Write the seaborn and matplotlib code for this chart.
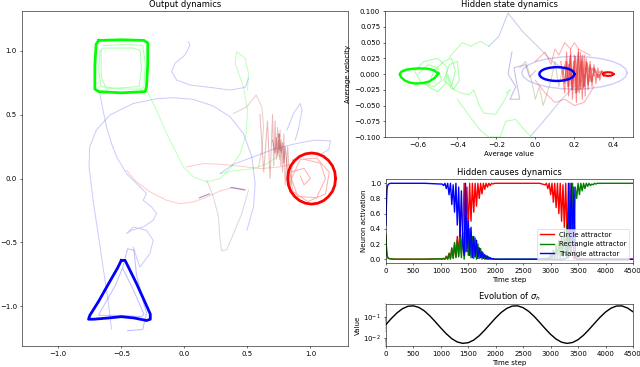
import numpy as np
import matplotlib
matplotlib.use("Agg")
import matplotlib.pyplot as plt
import seaborn as sns

# ---------------- Output dynamics: attractor loops ----------------
circle_x = [1.20, 1.194, 1.175, 1.144, 1.105, 1.059, 1.01, 0.961, 0.915, 0.876, 0.845, 0.826, 0.82,
            0.826, 0.845, 0.876, 0.915, 0.961, 1.01, 1.059, 1.105, 1.144, 1.175, 1.194, 1.20]
circle_y = [0.0, 0.052, 0.10, 0.141, 0.173, 0.193, 0.20, 0.193, 0.173, 0.141, 0.10, 0.052, 0.0,
            -0.052, -0.10, -0.141, -0.173, -0.193, -0.20, -0.193, -0.173, -0.141, -0.10, -0.052, 0.0]
circle_inner_x = [0.95, 1.08, 1.12, 1.05, 0.90, 0.85, 0.92, 1.05, 1.15, 1.12, 0.98, 0.86, 0.84, 0.95, 1.0, 0.95, 0.92]
circle_inner_y = [0.15, 0.12, 0.0, -0.15, -0.14, 0.0, 0.15, 0.16, 0.05, -0.12, -0.18, -0.1, 0.05, 0.08, 0.0, -0.05, 0.02]

square_x = [-0.68, -0.50, -0.32, -0.29, -0.29, -0.30, -0.31, -0.50, -0.68, -0.71, -0.71, -0.70, -0.68]
square_y = [1.08, 1.085, 1.08, 1.06, 0.90, 0.72, 0.68, 0.67, 0.68, 0.70, 0.88, 1.05, 1.08]
square_inner_x = [-0.64, -0.45, -0.33, -0.31, -0.32, -0.34, -0.50, -0.66, -0.68, -0.67, -0.64, -0.40, -0.35, -0.34, -0.36, -0.62, -0.66, -0.66]
square_inner_y = [1.04, 1.05, 1.04, 0.90, 0.72, 0.70, 0.70, 0.72, 0.85, 1.00, 1.02, 1.02, 1.0, 0.85, 0.72, 0.70, 0.80, 1.0]

triangle_x = [-0.50, -0.47, -0.44, -0.38, -0.32, -0.27, -0.27, -0.30, -0.40, -0.50, -0.60, -0.72, -0.76, -0.75, -0.68, -0.60, -0.53, -0.50]
triangle_y = [-0.64, -0.64, -0.70, -0.82, -0.95, -1.06, -1.10, -1.11, -1.09, -1.08, -1.09, -1.10, -1.10, -1.07, -0.96, -0.82, -0.70, -0.64]
triangle_inner_x = [-0.49, -0.40, -0.32, -0.34, -0.50, -0.68, -0.66, -0.55, -0.49, -0.45, -0.40, -0.38, -0.33, -0.30, -0.33, -0.45]
triangle_inner_y = [-0.70, -0.88, -1.06, -1.08, -1.07, -1.07, -1.03, -0.84, -0.70, -0.55, -0.56, -0.75, -0.95, -1.05, -1.18, -1.19]

# faint transient trajectories
out_p1_x = [-0.578, -0.605, -0.645, -0.684, -0.724, -0.756, -0.751, -0.698, -0.592, -0.406, -0.220, -0.088, 0.072, 0.231, 0.363, 0.469, 0.536, 0.562, 0.549, 0.496]
out_p1_y = [-1.175, -0.953, -0.692, -0.431, -0.170, 0.091, 0.248, 0.379, 0.496, 0.587, 0.624, 0.632, 0.619, 0.567, 0.483, 0.352, 0.170, -0.039, -0.222, -0.405]
out_p2_x = [-0.671, -0.645, -0.618, -0.578, -0.538, -0.459, -0.353, -0.300, -0.326, -0.260, -0.220, -0.247, -0.326, -0.419, -0.459, -0.406, -0.300, -0.247, -0.273, -0.353, -0.406]
out_p2_y = [0.666, 0.535, 0.405, 0.274, 0.170, 0.039, -0.065, -0.117, -0.170, -0.222, -0.274, -0.326, -0.379, -0.405, -0.431, -0.379, -0.405, -0.483, -0.587, -0.692, -0.535]
out_p3_x = [0.032, 0.045, 0.005, -0.074, -0.101, -0.061, 0.045, 0.204, 0.363, 0.483, 0.509]
out_p3_y = [1.070, 1.044, 0.966, 0.901, 0.836, 0.770, 0.731, 0.713, 0.692, 0.713, 0.783]
out_p4_x = [-0.300, -0.220, -0.141, -0.074, -0.008, 0.072, 0.178, 0.284, 0.363, 0.443, 0.491, 0.501, 0.469, 0.403, 0.416, 0.483, 0.509, 0.501]
out_p4_y = [0.692, 0.535, 0.352, 0.222, 0.091, 0.013, -0.026, 0.0, 0.078, 0.196, 0.352, 0.535, 0.718, 0.901, 0.992, 0.940, 0.822, 0.692]
out_p5_x = [0.284, 0.390, 0.549, 0.655, 0.761]
out_p5_y = [0.039, 0.060, 0.078, 0.117, 0.183]
out_p6_x = [0.390, 0.496, 0.570, 0.615, 0.629, 0.615, 0.589]
out_p6_y = [0.509, 0.561, 0.653, 0.561, 0.405, 0.222, 0.091]
out_p7_x = [-0.459, -0.379, -0.273, -0.141, -0.034, 0.072, 0.178, 0.284, 0.390, 0.483]
out_p7_y = [0.065, -0.026, -0.104, -0.170, -0.196, -0.183, -0.144, -0.097, -0.070, -0.086]
out_p8_x = [0.019, 0.151, 0.284, 0.443, 0.602, 0.761, 0.867]
out_p8_y = [0.091, 0.117, 0.112, 0.097, 0.078, 0.091, 0.117]
out_p9_x = [0.178, 0.231, 0.271, 0.284, 0.297, 0.337, 0.390, 0.456, 0.509]
out_p9_y = [-0.013, -0.144, -0.300, -0.483, -0.567, -0.556, -0.431, -0.274, -0.091]
out_p10_x = [0.284, 0.390, 0.549, 0.708, 0.867, 1.027, 1.159, 1.146, 1.053]
out_p10_y = [0.039, 0.112, 0.170, 0.230, 0.269, 0.300, 0.295, 0.227, 0.170]
out_p11_x = [0.814, 0.867, 0.920, 0.934, 0.907, 0.88]
out_p11_y = [0.379, 0.509, 0.587, 0.535, 0.392, 0.30]
out_p12_x = [0.60, 0.63, 0.66, 0.68, 0.70, 0.71, 0.72, 0.73, 0.74, 0.745, 0.75, 0.755, 0.76, 0.765, 0.77,
             0.78, 0.79, 0.80, 0.82, 0.84, 0.86]
out_p12_y = [0.50, 0.05, 0.45, 0.0, 0.50, 0.10, 0.45, 0.15, 0.40, 0.20, 0.35, 0.15, 0.38, 0.10, 0.30,
             0.05, 0.35, -0.05, 0.25, -0.10, 0.15]
out_p15_x = [0.70, 0.72, 0.73, 0.74, 0.75, 0.76, 0.75, 0.77, 0.78, 0.79, 0.80, 0.82]
out_p15_y = [0.30, 0.20, 0.32, 0.18, 0.30, 0.22, 0.35, 0.20, 0.28, 0.12, 0.25, 0.05]
out_p13_x = [0.12, 0.20]
out_p13_y = [-0.15, -0.12]
out_p14_x = [0.37, 0.48]
out_p14_y = [-0.07, -0.09]

# ---------------- Hidden state dynamics ----------------
hs_green_x = [-0.497, -0.52, -0.552, -0.59, -0.625, -0.66, -0.685, -0.695, -0.688, -0.67, -0.645, -0.615, -0.58, -0.545, -0.515, -0.497]
hs_green_y = [0.001, 0.006, 0.0085, 0.009, 0.0085, 0.007, 0.004, 0.0, -0.005, -0.010, -0.0135, -0.015, -0.0145, -0.012, -0.006, 0.001]
hs_blue_x = [0.20, 0.197, 0.188, 0.174, 0.155, 0.133, 0.11, 0.087, 0.065, 0.046, 0.032, 0.023, 0.02,
             0.023, 0.032, 0.046, 0.065, 0.087, 0.11, 0.133, 0.155, 0.174, 0.188, 0.197, 0.20]
hs_blue_y = [0.0, 0.0028, 0.0055, 0.0078, 0.0095, 0.0106, 0.011, 0.0106, 0.0095, 0.0078, 0.0055, 0.0028, 0.0,
             -0.0028, -0.0055, -0.0078, -0.0095, -0.0106, -0.011, -0.0106, -0.0095, -0.0078, -0.0055, -0.0028, 0.0]
hs_bigloop_x = [0.47, 0.461, 0.434, 0.391, 0.335, 0.270, 0.20, 0.130, 0.065, 0.009, -0.034, -0.061, -0.07,
                -0.061, -0.034, 0.009, 0.065, 0.130, 0.20, 0.270, 0.335, 0.391, 0.434, 0.461, 0.47]
hs_bigloop_y = [0.002, 0.0087, 0.015, 0.0204, 0.0245, 0.0271, 0.028, 0.0271, 0.0245, 0.0204, 0.015, 0.0087, 0.002,
                -0.0047, -0.011, -0.0164, -0.0205, -0.0231, -0.024, -0.0231, -0.0205, -0.0164, -0.011, -0.0047, 0.002]
hs_red_x = [0.40, 0.39, 0.37, 0.35, 0.345, 0.35, 0.37, 0.39, 0.40]
hs_red_y = [0.0, 0.0025, 0.003, 0.002, 0.0, -0.002, -0.003, -0.0025, 0.0]

hs_gsq_x = [-0.6, -0.55, -0.5, -0.48, -0.52, -0.58, -0.62, -0.57, -0.5, -0.45, -0.46, -0.5, -0.55, -0.52, -0.47,
            -0.43, -0.41, -0.43, -0.47, -0.44, -0.40, -0.39, -0.42, -0.45]
hs_gsq_y = [0.0, 0.015, 0.01, -0.01, -0.02, -0.015, 0.005, 0.02, 0.025, 0.01, -0.015, -0.028, -0.02, 0.005, 0.02,
            0.025, 0.005, -0.02, -0.01, 0.015, 0.02, -0.01, -0.025, 0.0]
hs_gdown_x = [-0.45, -0.434, -0.383, -0.340, -0.315, -0.289, -0.264, -0.204, -0.161, -0.135, -0.127, -0.152]
hs_gdown_y = [-0.0035, -0.022, -0.030, -0.033, -0.025, -0.049, -0.062, -0.064, -0.043, -0.027, -0.025, -0.030]
hs_glow_x = [-0.40, -0.33, -0.28, -0.24, -0.18, -0.152, -0.101, -0.058, -0.015]
hs_glow_y = [-0.04, -0.07, -0.09, -0.10, -0.10, -0.075, -0.072, -0.088, -0.102]
hs_gup_x = [-0.443, -0.374, -0.332, -0.281, -0.238]
hs_gup_y = [0.026, 0.050, 0.044, 0.052, 0.044]
hs_bup_x = [-0.238, -0.187, -0.14, -0.067, 0.018, 0.087, 0.15]
hs_bup_y = [0.044, 0.060, 0.097, 0.068, 0.042, 0.020, 0.008]
hs_blow_x = [-0.022, 0.063, 0.132, 0.20]
hs_blow_y = [-0.098, -0.067, -0.041, -0.019]
hs_bwig_x = [-0.12, -0.14, -0.10, -0.13, -0.08, -0.11, -0.05, -0.03, 0.0]
hs_bwig_y = [0.035, 0.0, -0.02, -0.04, -0.04, 0.01, 0.015, -0.005, 0.005]
hs_brown_x = [-0.08, -0.05, -0.02, 0.0, 0.02, 0.04, 0.06, 0.08, 0.10, 0.12, 0.14]
hs_brown_y = [0.01, 0.02, -0.01, -0.04, -0.02, -0.05, -0.03, -0.01, 0.02, -0.02, 0.01]
hs_rcloud_x = [0.13, 0.15, 0.16, 0.17, 0.18, 0.19, 0.2, 0.21, 0.22, 0.225, 0.23, 0.24, 0.25, 0.255, 0.26, 0.27,
               0.28, 0.29, 0.30, 0.31, 0.32, 0.33, 0.34, 0.35, 0.36,
               0.33, 0.31, 0.29, 0.275, 0.262, 0.248, 0.238, 0.228, 0.215, 0.205, 0.195, 0.185, 0.175, 0.165, 0.155, 0.14]
hs_rcloud_y = [0.02, -0.03, 0.035, -0.035, 0.04, -0.04, 0.03, -0.045, 0.04, -0.03, 0.035, -0.04, 0.03, -0.035, 0.025, -0.025,
               0.02, -0.02, 0.015, -0.015, 0.01, -0.01, 0.006, -0.004, 0.003,
               0.004, -0.006, 0.01, -0.012, 0.015, -0.02, 0.02, -0.02, 0.025, -0.03, 0.02, -0.025, 0.025, -0.02, 0.02, 0.0]
hs_rcore_x = [0.14, 0.15, 0.16, 0.17, 0.18, 0.19, 0.20, 0.21, 0.22, 0.23, 0.24, 0.25, 0.26, 0.27, 0.28, 0.29, 0.30, 0.32, 0.34,
              0.325, 0.305, 0.285, 0.265, 0.245, 0.235, 0.218, 0.205, 0.188, 0.172, 0.158]
hs_rcore_y = [0.01, -0.015, 0.02, -0.02, 0.03, -0.025, 0.02, -0.03, 0.035, -0.025, 0.03, -0.02, 0.02, -0.018, 0.015, -0.012, 0.01, -0.006, 0.004,
              -0.005, 0.008, -0.012, 0.018, -0.022, 0.025, -0.028, 0.028, -0.02, 0.015, -0.01]
hs_rtop_x = [0.0, 0.05, 0.08, 0.1, 0.12, 0.15, 0.18, 0.2, 0.22, 0.25, 0.28]
hs_rtop_y = [0.02, 0.035, 0.015, 0.04, 0.03, 0.05, 0.04, 0.05, 0.04, 0.035, 0.03]
hs_rbot_x = [0.0, 0.05, 0.1, 0.15, 0.2, 0.25, 0.3]
hs_rbot_y = [-0.01, -0.03, -0.045, -0.04, -0.05, -0.045, -0.02]

# ---------------- Hidden causes dynamics ----------------
t_a = [0, 10, 20, 30, 50, 80, 150, 400, 700, 1000]
t_b = list(range(1025, 2001, 25))
t_c = [2200, 2500, 2800, 2900]
t_d = list(range(2925, 3901, 25))
t_e = [4100, 4300, 4500]
time_steps = t_a + t_b + t_c + t_d + t_e

circle_act = ([0.33, 0.15, 0.06, 0.03, 0.01, 0.005, 0.0, 0.0, 0.0, 0.005]
              + [0.0, 0.01, 0.0, 0.04, 0.0, 0.08, 0.01, 0.14, 0.02, 0.2, 0.03, 0.3, 0.05, 0.42, 0.08, 0.35, 1.0, 0.1, 0.95, 0.4,
                 1.0, 0.5, 1.0, 0.62, 1.0, 0.7, 1.0, 0.8, 1.0, 0.86, 1.0, 0.92, 1.0, 0.95, 1.0, 0.97, 1.0, 0.99, 1.0, 1.0]
              + [1.0, 1.0, 1.0, 0.98]
              + [1.0, 0.93, 1.0, 0.85, 1.0, 0.75, 1.0, 0.68, 1.0, 0.6, 1.0, 0.5, 0.98, 0.42, 1.0, 0.3, 0.05, 1.0, 0.1, 0.5,
                 0.0, 0.05, 0.0, 0.02, 0.0, 0.01, 0.0, 0.0, 0.0, 0.0, 0.0, 0.0, 0.0, 0.0, 0.0, 0.0, 0.0, 0.0, 0.0, 0.0]
              + [0.0, 0.0, 0.0])
rect_act = ([0.30, 0.12, 0.05, 0.02, 0.01, 0.005, 0.0, 0.0, 0.0, 0.005]
            + [0.0, 0.01, 0.0, 0.03, 0.0, 0.07, 0.0, 0.15, 0.01, 0.22, 0.02, 0.25, 0.03, 0.3, 0.02, 0.35, 0.0, 0.2, 0.55, 0.05,
               0.4, 0.02, 0.3, 0.01, 0.28, 0.0, 0.2, 0.01, 0.14, 0.0, 0.08, 0.0, 0.05, 0.0, 0.03, 0.0, 0.01, 0.0, 0.0, 0.0]
            + [0.0, 0.0, 0.0, 0.01]
            + [0.0, 0.02, 0.0, 0.06, 0.0, 0.12, 0.01, 0.18, 0.02, 0.25, 0.02, 0.3, 0.03, 0.38, 0.05, 0.45, 0.02, 0.6, 0.05, 1.0,
               0.2, 0.95, 0.8, 1.0, 0.85, 1.0, 0.9, 1.0, 0.93, 1.0, 0.96, 1.0, 0.97, 0.99, 0.98, 1.0, 0.99, 1.0, 1.0, 1.0]
            + [1.0, 1.0, 1.0])
tri_act = ([0.45, 0.75, 0.92, 0.97, 0.99, 1.0, 1.0, 1.0, 1.0, 0.99]
           + [0.99, 0.97, 1.0, 0.93, 1.0, 0.85, 1.0, 0.72, 0.98, 0.62, 1.0, 0.45, 0.95, 0.3, 0.9, 0.2, 0.05, 1.0, 0.1, 0.5,
              0.05, 0.42, 0.02, 0.3, 0.03, 0.25, 0.01, 0.15, 0.02, 0.1, 0.01, 0.06, 0.0, 0.04, 0.0, 0.02, 0.0, 0.01, 0.0, 0.0]
           + [0.0, 0.0, 0.0, 0.0]
           + [0.0, 0.0, 0.0, 0.0, 0.0, 0.0, 0.0, 0.0, 0.0, 0.0, 0.0, 0.0, 0.0, 0.0, 0.01, 0.02, 1.0, 0.15, 1.0, 0.25,
              0.95, 0.02, 0.0, 0.0, 0.0, 0.0, 0.0, 0.0, 0.0, 0.0, 0.0, 0.0, 0.0, 0.0, 0.0, 0.0, 0.0, 0.0, 0.0, 0.0]
           + [0.0, 0.0, 0.0])

# ---------------- Evolution of sigma_h ----------------
sigma_t = list(range(0, 4501, 100))
sigma_h = [0.0424, 0.0832, 0.151, 0.240, 0.315, 0.331, 0.278, 0.190, 0.110, 0.0577,
           0.0291, 0.0154, 0.0090, 0.00627, 0.00540, 0.00580, 0.00774, 0.0125, 0.0231, 0.0454,
           0.0885, 0.160, 0.249, 0.321, 0.330, 0.270, 0.181, 0.104, 0.0538, 0.0273,
           0.0145, 0.0086, 0.00612, 0.00537, 0.00593, 0.00807, 0.0132, 0.0247, 0.0485, 0.094,
           0.167, 0.256, 0.324, 0.327, 0.261, 0.173]


def trace(ax, xs, ys, color, alpha=1.0, lw=1.5, label=None):
    sns.lineplot(x=xs, y=ys, sort=False, estimator=None, color=color, alpha=alpha,
                 lw=lw, ax=ax, label=label, legend=False)


fig = plt.figure(figsize=(12.8, 7.34), dpi=50)
ax_out = fig.add_axes([0.034, 0.057, 0.510, 0.913])
ax_hs = fig.add_axes([0.6016, 0.6267, 0.3875, 0.343])
ax_hc = fig.add_axes([0.603, 0.2834, 0.386, 0.2275])
ax_sg = fig.add_axes([0.603, 0.057, 0.386, 0.1144])

# Output dynamics
faint = 0.2
trace(ax_out, out_p1_x, out_p1_y, "blue", faint)
trace(ax_out, out_p2_x, out_p2_y, "blue", faint)
trace(ax_out, out_p3_x, out_p3_y, "blue", faint)
trace(ax_out, out_p4_x, out_p4_y, "lime", faint + 0.05)
trace(ax_out, out_p5_x, out_p5_y, "lime", faint + 0.05)
trace(ax_out, out_p6_x, out_p6_y, "#a05020", faint + 0.05)
trace(ax_out, out_p7_x, out_p7_y, "red", faint)
trace(ax_out, out_p8_x, out_p8_y, "red", faint)
trace(ax_out, out_p9_x, out_p9_y, "#707070", faint + 0.05)
trace(ax_out, out_p10_x, out_p10_y, "blue", faint)
trace(ax_out, out_p11_x, out_p11_y, "blue", faint)
trace(ax_out, out_p12_x, out_p12_y, "#c02020", 0.3)
trace(ax_out, out_p15_x, out_p15_y, "#a02020", 0.4)
trace(ax_out, out_p13_x, out_p13_y, "#6040a0", 0.6)
trace(ax_out, out_p14_x, out_p14_y, "#6040a0", 0.6)
trace(ax_out, circle_inner_x, circle_inner_y, "red", 0.3)
trace(ax_out, square_inner_x, square_inner_y, "lime", 0.3)
trace(ax_out, triangle_inner_x, triangle_inner_y, "blue", 0.25)
trace(ax_out, circle_x, circle_y, "red", 1.0, 4)
trace(ax_out, square_x, square_y, "lime", 1.0, 4)
trace(ax_out, triangle_x, triangle_y, "blue", 1.0, 4)
ax_out.set_xlim(-1.29, 1.30)
ax_out.set_ylim(-1.31, 1.31)
ax_out.set_xticks([-1.0, -0.5, 0.0, 0.5, 1.0])
ax_out.set_yticks([-1.0, -0.5, 0.0, 0.5, 1.0])
ax_out.set_title("Output dynamics")

# Hidden state dynamics
trace(ax_hs, hs_bigloop_x, hs_bigloop_y, "blue", 0.2, 2)
trace(ax_hs, hs_gsq_x, hs_gsq_y, "lime", 0.35)
trace(ax_hs, hs_gdown_x, hs_gdown_y, "lime", 0.3)
trace(ax_hs, hs_glow_x, hs_glow_y, "lime", 0.3)
trace(ax_hs, hs_gup_x, hs_gup_y, "lime", 0.3)
trace(ax_hs, hs_bup_x, hs_bup_y, "#4060c0", 0.3)
trace(ax_hs, hs_blow_x, hs_blow_y, "#4060c0", 0.3)
trace(ax_hs, hs_bwig_x, hs_bwig_y, "#6040c0", 0.35)
trace(ax_hs, hs_brown_x, hs_brown_y, "#a08040", 0.35)
trace(ax_hs, hs_rtop_x, hs_rtop_y, "red", 0.3)
trace(ax_hs, hs_rbot_x, hs_rbot_y, "red", 0.3)
trace(ax_hs, hs_rcloud_x, hs_rcloud_y, "red", 0.45)
trace(ax_hs, hs_rcore_x, hs_rcore_y, "#d02020", 0.55)
trace(ax_hs, hs_green_x, hs_green_y, "lime", 1.0, 3.5)
trace(ax_hs, hs_blue_x, hs_blue_y, "blue", 1.0, 3.5)
trace(ax_hs, hs_red_x, hs_red_y, "red", 1.0, 3)
ax_hs.set_xlim(-0.77, 0.50)
ax_hs.set_ylim(-0.1, 0.1)
ax_hs.set_xticks([-0.6, -0.4, -0.2, 0.0, 0.2, 0.4])
ax_hs.set_yticks(np.arange(-0.1, 0.1001, 0.025))
ax_hs.set_title("Hidden state dynamics")
ax_hs.set_xlabel("Average value")
ax_hs.set_ylabel("Average velocity")

# Hidden causes dynamics
trace(ax_hc, time_steps, circle_act, "red", lw=2, label="Circle attractor")
trace(ax_hc, time_steps, rect_act, "green", lw=2, label="Rectangle attractor")
trace(ax_hc, time_steps, tri_act, "blue", lw=2, label="Triangle attractor")
ax_hc.set_xlim(0, 4500)
ax_hc.set_ylim(-0.05, 1.05)
ax_hc.set_xticks(range(0, 4501, 500))
ax_hc.set_title("Hidden causes dynamics")
ax_hc.set_xlabel("Time step")
ax_hc.set_ylabel("Neuron activation")
ax_hc.legend(loc="lower right")

# Evolution of sigma_h
trace(ax_sg, sigma_t, sigma_h, "black", 1.0, 2)
ax_sg.set_yscale("log")
ax_sg.set_xlim(0, 4500)
ax_sg.set_ylim(0.004, 0.40)
ax_sg.set_xticks(range(0, 4501, 500))
ax_sg.set_title(r"Evolution of $\sigma_h$")
ax_sg.set_xlabel("Time step")
ax_sg.set_ylabel("Value")

fig.savefig("out.png", dpi=50)
